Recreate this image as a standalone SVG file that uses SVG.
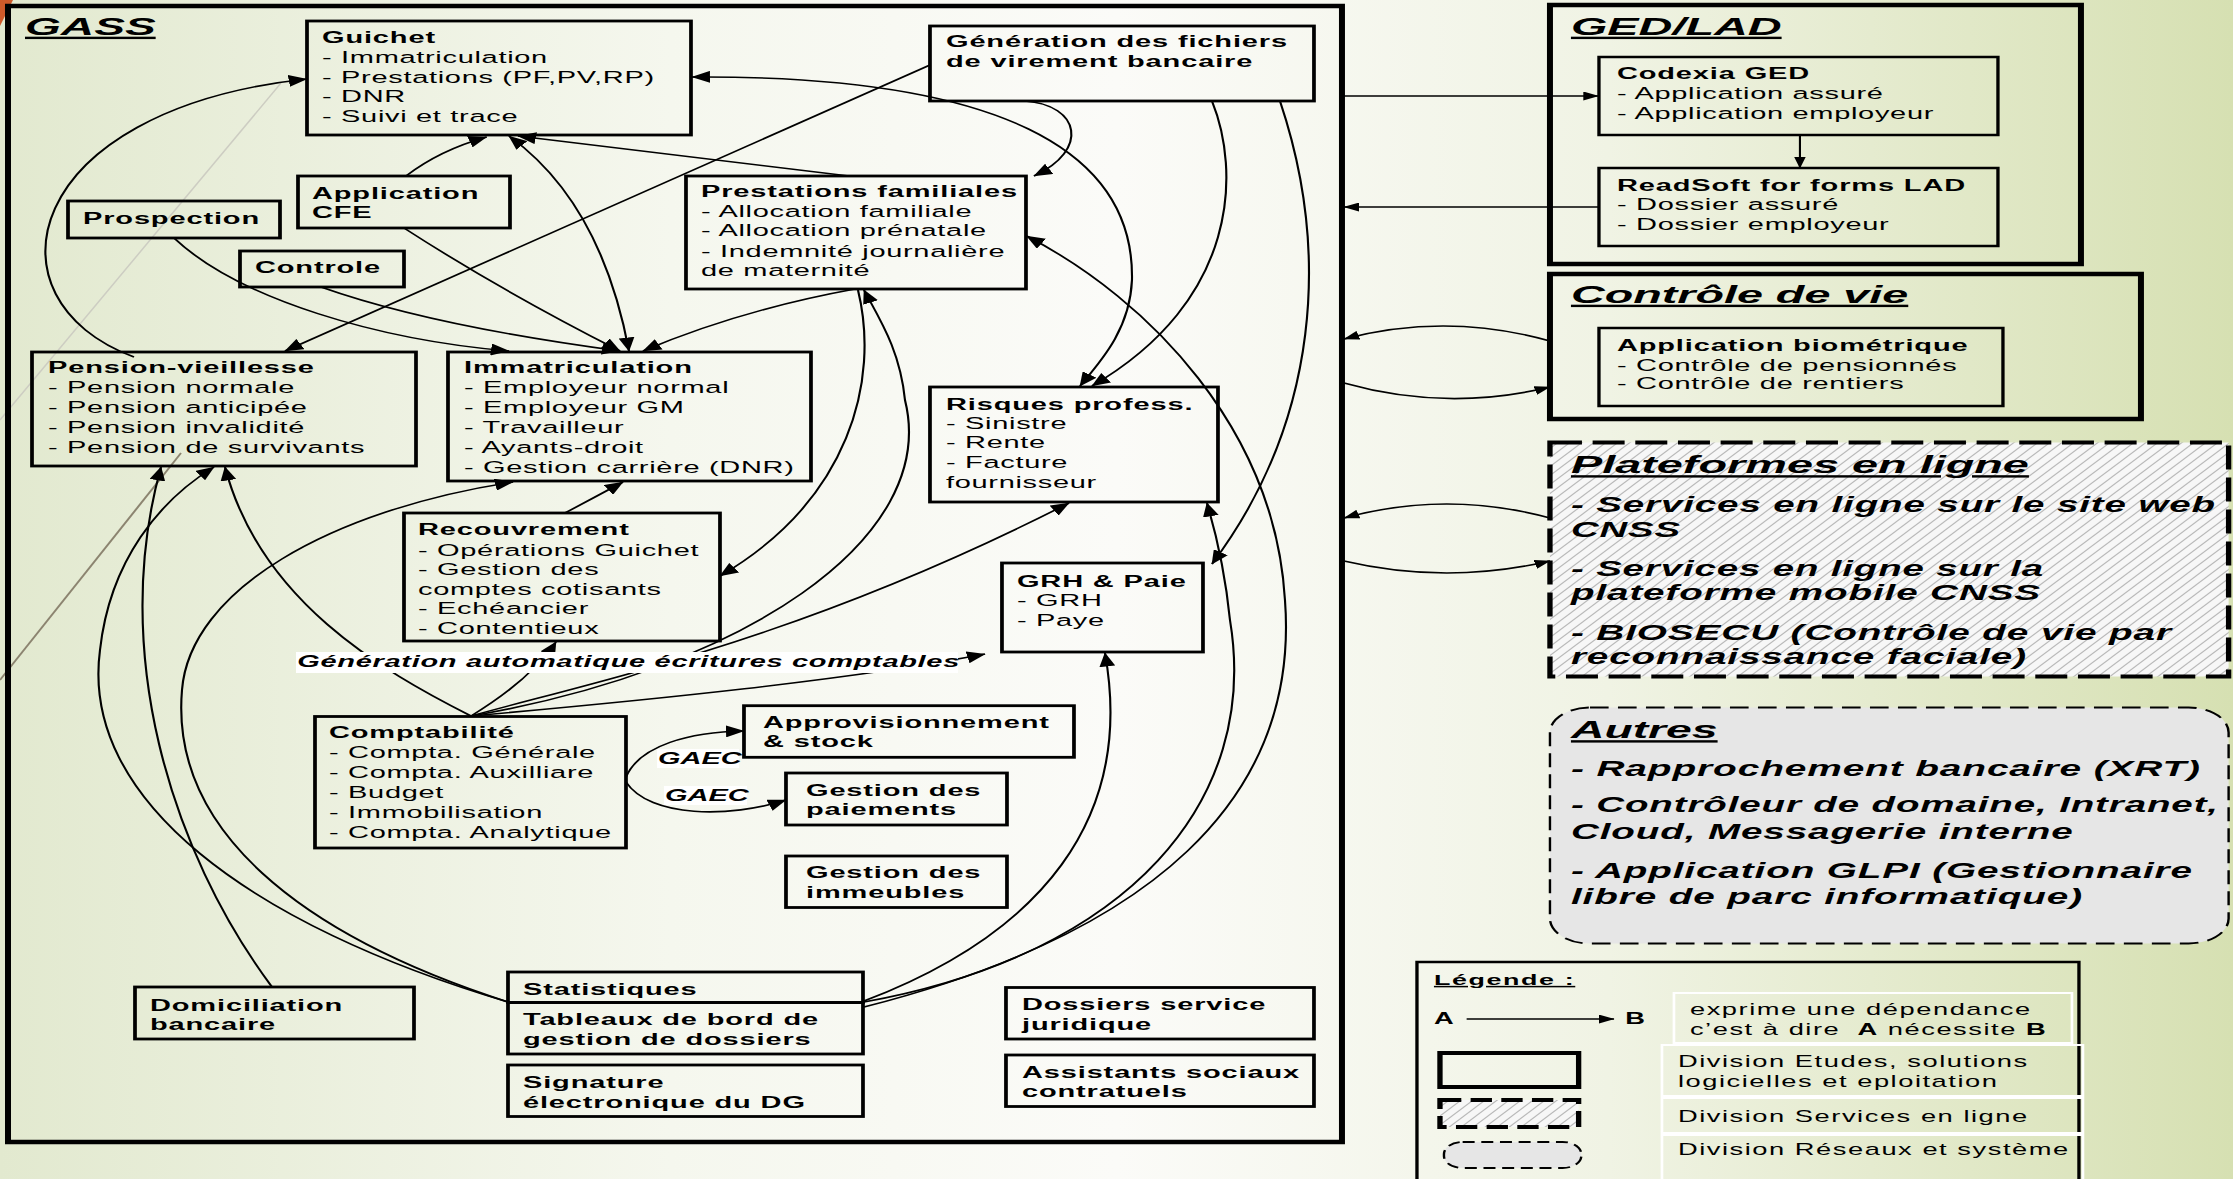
<svg xmlns="http://www.w3.org/2000/svg" width="2233" height="1179" viewBox="0 0 2233 1179">
<defs>
<linearGradient id="bg" x1="0" y1="0" x2="1" y2="0">
<stop offset="0" stop-color="#e2e9cf"/>
<stop offset="0.3" stop-color="#f5f7ee"/>
<stop offset="0.5" stop-color="#fbfbf8"/>
<stop offset="0.72" stop-color="#f0f3e4"/>
<stop offset="1" stop-color="#d6e0b2"/>
</linearGradient>
<pattern id="hatch" patternUnits="userSpaceOnUse" width="9" height="9">
<rect width="9" height="9" fill="#f7f7f7"/>
<path d="M-1,10 L10,-1 M-1,1 L1,-1 M8,10 L10,8" stroke="#b8b8b8" stroke-width="1"/>
</pattern>
<marker id="ah" viewBox="0 0 14 12" refX="13.5" refY="6" markerWidth="14" markerHeight="12" markerUnits="userSpaceOnUse" orient="auto-start-reverse">
<path d="M0,0 L14,6 L0,12 z" fill="#000"/>
</marker>
<marker id="as" viewBox="0 0 12 9" refX="11.5" refY="4.5" markerWidth="12" markerHeight="9" markerUnits="userSpaceOnUse" orient="auto-start-reverse">
<path d="M0,0 L12,4.5 L0,9 z" fill="#000"/>
</marker>
<style>
.box{fill:none;stroke:#000;stroke-width:2.8}
.frame{fill:none;stroke:#000;stroke-width:4.5}
.t{font-family:"Liberation Sans",Arial,sans-serif;font-size:17px;letter-spacing:0.4px;fill:#000}
.b{font-weight:bold;letter-spacing:0.5px}
.big{font-family:"Liberation Sans",Arial,sans-serif;font-size:22px;font-weight:bold;font-style:italic;letter-spacing:0.5px;fill:#000}
.ttl{font-family:"Liberation Sans",Arial,sans-serif;font-size:24px;font-weight:bold;font-style:italic;text-decoration:underline;fill:#000}
.lg{font-family:"Liberation Sans",Arial,sans-serif;font-size:16px;letter-spacing:0.9px;fill:#000}
.lbl{font-family:"Liberation Sans",Arial,sans-serif;font-size:17px;font-weight:bold;font-style:italic;letter-spacing:0.4px;fill:#000}
.cn path{fill:none;stroke:#000;stroke-width:1.6}
.wbg{fill:#fff;stroke:none}
</style>
</defs>

<rect x="0" y="0" width="2233" height="1179" fill="url(#bg)"/>
<g id="decor">
<polygon points="0,0 13,0 0,26" fill="#cf5a2a"/>
<line x1="281" y1="83" x2="0" y2="420" stroke="#cdcdc2" stroke-width="1.5"/>
<line x1="181" y1="453" x2="0" y2="680" stroke="#8c8470" stroke-width="2"/>
</g>

<g transform="scale(1.3333,1)">

<g id="gass">
<rect class="frame" x="6" y="6" width="1000.5" height="1136"/>
<text class="ttl" x="18.75" y="35" textLength="98" lengthAdjust="spacingAndGlyphs">GASS</text>
</g>

<g id="guichet">
<rect class="box" x="230.25" y="21" width="288" height="114"/>
<text class="t" transform="scale(1.28,1)"><tspan class="b" x="188.67" y="43">Guichet</tspan><tspan x="188.67" y="63">- Immatriculation</tspan><tspan x="188.67" y="83">- Prestations (PF,PV,RP)</tspan><tspan x="188.67" y="102">- DNR</tspan><tspan x="188.67" y="122">- Suivi et trace</tspan></text>
</g>

<g id="generation-fichiers">
<rect class="box" x="697.5" y="26" width="288" height="75"/>
<text class="t b" transform="scale(1.28,1)"><tspan x="554.3" y="47">Génération des fichiers</tspan><tspan x="554.3" y="67">de virement bancaire</tspan></text>
</g>

<g id="application-cfe">
<rect class="box" x="223.5" y="176" width="159" height="52"/>
<text class="t b" transform="scale(1.28,1)"><tspan x="182.81" y="199">Application</tspan><tspan x="182.81" y="218">CFE</tspan></text>
</g>

<g id="prospection">
<rect class="box" x="51" y="201" width="159" height="37"/>
<text class="t b" transform="scale(1.28,1)" x="48.63" y="224">Prospection</text>
</g>

<g id="controle">
<rect class="box" x="180" y="251" width="123" height="36"/>
<text class="t b" transform="scale(1.28,1)" x="149.41" y="273">Controle</text>
</g>

<g id="prestations-familiales">
<rect class="box" x="514.5" y="176" width="255" height="113"/>
<text class="t" transform="scale(1.28,1)"><tspan class="b" x="410.74" y="197">Prestations familiales</tspan><tspan x="410.74" y="217">- Allocation familiale</tspan><tspan x="410.74" y="236">- Allocation prénatale</tspan><tspan x="410.74" y="257">- Indemnité journalière</tspan><tspan x="410.74" y="276">de maternité</tspan></text>
</g>

<g id="pension-vieillesse">
<rect class="box" x="24" y="352" width="288" height="114"/>
<text class="t" transform="scale(1.28,1)"><tspan class="b" x="28.13" y="373">Pension-vieillesse</tspan><tspan x="28.13" y="393">- Pension normale</tspan><tspan x="28.13" y="413">- Pension anticipée</tspan><tspan x="28.13" y="433">- Pension invalidité</tspan><tspan x="28.13" y="453">- Pension de survivants</tspan></text>
</g>

<g id="immatriculation">
<rect class="box" x="336" y="352" width="272.25" height="129"/>
<text class="t" transform="scale(1.28,1)"><tspan class="b" x="271.88" y="373">Immatriculation</tspan><tspan x="271.88" y="393">- Employeur normal</tspan><tspan x="271.88" y="413">- Employeur GM</tspan><tspan x="271.88" y="433">- Travailleur</tspan><tspan x="271.88" y="453">- Ayants-droit</tspan><tspan x="271.88" y="473">- Gestion carrière (DNR)</tspan></text>
</g>

<g id="risques-profess">
<rect class="box" x="697.5" y="387" width="216" height="115"/>
<text class="t" transform="scale(1.28,1)"><tspan class="b" x="554.3" y="410">Risques profess.</tspan><tspan x="554.3" y="429">- Sinistre</tspan><tspan x="554.3" y="448">- Rente</tspan><tspan x="554.3" y="468">- Facture</tspan><tspan x="554.3" y="488">fournisseur</tspan></text>
</g>

<g id="recouvrement">
<rect class="box" x="303" y="513" width="237" height="128"/>
<text class="t" transform="scale(1.28,1)"><tspan class="b" x="244.92" y="535">Recouvrement</tspan><tspan x="244.92" y="556">- Opérations Guichet</tspan><tspan x="244.92" y="575">- Gestion des</tspan><tspan x="244.92" y="595">comptes cotisants</tspan><tspan x="244.92" y="614">- Echéancier</tspan><tspan x="244.92" y="634">- Contentieux</tspan></text>
</g>

<g id="grh-paie">
<rect class="box" x="751.5" y="563" width="150.75" height="89"/>
<text class="t" transform="scale(1.28,1)"><tspan class="b" x="595.9" y="587">GRH &amp; Paie</tspan><tspan x="595.9" y="606">- GRH</tspan><tspan x="595.9" y="626">- Paye</tspan></text>
</g>

<g id="comptabilite">
<rect class="box" x="236.25" y="716.5" width="233.25" height="131.5"/>
<text class="t" transform="scale(1.28,1)"><tspan class="b" x="192.77" y="738">Comptabilité</tspan><tspan x="192.77" y="758">- Compta. Générale</tspan><tspan x="192.77" y="778">- Compta. Auxilliare</tspan><tspan x="192.77" y="798">- Budget</tspan><tspan x="192.77" y="818">- Immobilisation</tspan><tspan x="192.77" y="838">- Compta. Analytique</tspan></text>
</g>

<g id="approvisionnement">
<rect class="box" x="558" y="705.7" width="247.5" height="51.6"/>
<text class="t b" transform="scale(1.28,1)"><tspan x="447.07" y="728">Approvisionnement</tspan><tspan x="447.07" y="747">&amp; stock</tspan></text>
</g>

<g id="gestion-paiements">
<rect class="box" x="589.5" y="773" width="165.75" height="52"/>
<text class="t b" transform="scale(1.28,1)"><tspan x="472.27" y="796">Gestion des</tspan><tspan x="472.27" y="815">paiements</tspan></text>
</g>

<g id="gestion-immeubles">
<rect class="box" x="589.5" y="856" width="165.75" height="51.5"/>
<text class="t b" transform="scale(1.28,1)"><tspan x="472.27" y="878.5">Gestion des</tspan><tspan x="472.27" y="898">immeubles</tspan></text>
</g>

<g id="domiciliation">
<rect class="box" x="101.25" y="987" width="209.25" height="52"/>
<text class="t b" transform="scale(1.28,1)"><tspan x="87.89" y="1011">Domiciliation</tspan><tspan x="87.89" y="1030">bancaire</tspan></text>
</g>

<g id="statistiques">
<rect class="box" x="381" y="972" width="266.25" height="30.5"/>
<rect class="box" x="381" y="1002.5" width="266.25" height="51.5"/>
<text class="t b" transform="scale(1.28,1)"><tspan x="306.45" y="995">Statistiques</tspan><tspan x="306.45" y="1025.5">Tableaux de bord de</tspan><tspan x="306.45" y="1045.5">gestion de dossiers</tspan></text>
</g>

<g id="signature">
<rect class="box" x="381" y="1065" width="266.25" height="51.5"/>
<text class="t b" transform="scale(1.28,1)"><tspan x="306.45" y="1088">Signature</tspan><tspan x="306.45" y="1108">électronique du DG</tspan></text>
</g>

<g id="dossiers-juridique">
<rect class="box" x="754.5" y="987.5" width="231" height="51.5"/>
<text class="t b" transform="scale(1.28,1)"><tspan x="598.83" y="1010">Dossiers service</tspan><tspan x="598.83" y="1030">juridique</tspan></text>
</g>

<g id="assistants-sociaux">
<rect class="box" x="754.5" y="1055" width="231" height="51.5"/>
<text class="t b" transform="scale(1.28,1)"><tspan x="598.83" y="1078">Assistants sociaux</tspan><tspan x="598.83" y="1097">contratuels</tspan></text>
</g>

<g id="ged-lad">
<rect class="frame" x="1162.5" y="5" width="398.25" height="259"/>
<text class="ttl" x="1178.25" y="35" textLength="158" lengthAdjust="spacingAndGlyphs">GED/LAD</text>
</g>
<g id="codexia">
<rect class="box" x="1199.25" y="57" width="299.25" height="78" style="stroke-width:2.5"/>
<text class="t" transform="scale(1.28,1)"><tspan class="b" x="947.46" y="79">Codexia GED</tspan><tspan x="947.46" y="99">- Application assuré</tspan><tspan x="947.46" y="119">- Application employeur</tspan></text>
</g>
<g id="readsoft">
<rect class="box" x="1199.25" y="168" width="299.25" height="78" style="stroke-width:2.5"/>
<text class="t" transform="scale(1.28,1)"><tspan class="b" x="947.46" y="191">ReadSoft for forms LAD</tspan><tspan x="947.46" y="210">- Dossier assuré</tspan><tspan x="947.46" y="230">- Dossier employeur</tspan></text>
</g>

<g id="controle-de-vie">
<rect class="frame" x="1162.5" y="274" width="443.25" height="145"/>
<text class="ttl" x="1178.25" y="303" textLength="253" lengthAdjust="spacingAndGlyphs">Contrôle de vie</text>
</g>
<g id="application-biometrique">
<rect class="box" x="1199.25" y="328" width="303" height="78" style="stroke-width:2.5"/>
<text class="t" transform="scale(1.28,1)"><tspan class="b" x="947.46" y="351">Application biométrique</tspan><tspan x="947.46" y="371">- Contrôle de pensionnés</tspan><tspan x="947.46" y="389">- Contrôle de rentiers</tspan></text>
</g>

<g id="plateformes">
<rect x="1162.5" y="442.5" width="509" height="234" fill="url(#hatch)" stroke="#000" stroke-width="4" stroke-dasharray="24 8"/>
<text class="ttl" x="1178.25" y="473.5" textLength="343.5" lengthAdjust="spacingAndGlyphs">Plateformes en ligne</text>
<text class="big" x="1178.25" y="512" textLength="483.75" lengthAdjust="spacingAndGlyphs">- Services en ligne sur le site web</text>
<text class="big" x="1178.25" y="537" textLength="82.5" lengthAdjust="spacingAndGlyphs">CNSS</text>
<text class="big" x="1178.25" y="576.5" textLength="354.75" lengthAdjust="spacingAndGlyphs">- Services en ligne sur la</text>
<text class="big" x="1178.25" y="600.5" textLength="352.5" lengthAdjust="spacingAndGlyphs">plateforme mobile CNSS</text>
<text class="big" x="1178.25" y="640" textLength="450.75" lengthAdjust="spacingAndGlyphs">- BIOSECU (Contrôle de vie par</text>
<text class="big" x="1178.25" y="664.5" textLength="342" lengthAdjust="spacingAndGlyphs">reconnaissance faciale)</text>
</g>

<g id="autres">
<rect x="1162.5" y="707.5" width="509" height="236" rx="30" ry="25" fill="#e6e6e6" stroke="#000" stroke-width="1.8" stroke-dasharray="14 7"/>
<text class="ttl" x="1178.25" y="738.5" textLength="110" lengthAdjust="spacingAndGlyphs">Autres</text>
<text class="big" x="1178.25" y="776" textLength="472.5" lengthAdjust="spacingAndGlyphs">- Rapprochement bancaire (XRT)</text>
<text class="big" x="1178.25" y="812.5" textLength="486" lengthAdjust="spacingAndGlyphs">- Contrôleur de domaine, Intranet,</text>
<text class="big" x="1178.25" y="839" textLength="377" lengthAdjust="spacingAndGlyphs">Cloud, Messagerie interne</text>
<text class="big" x="1178.25" y="878" textLength="466.5" lengthAdjust="spacingAndGlyphs">- Application GLPI (Gestionnaire</text>
<text class="big" x="1178.25" y="904" textLength="384" lengthAdjust="spacingAndGlyphs">libre de parc informatique)</text>
</g>

<g id="legende">
<rect x="1062.75" y="962" width="496.5" height="230" fill="none" stroke="#000" stroke-width="2.5"/>
<text class="lg" x="1075.5" y="985" style="font-size:15px;font-weight:bold;text-decoration:underline" textLength="106" lengthAdjust="spacingAndGlyphs">Légende :</text>
<text class="lg" x="840.23" y="1024" transform="scale(1.28,1)" style="font-weight:bold">A</text>
<line x1="1100" y1="1019" x2="1210.5" y2="1019" stroke="#000" stroke-width="1.4" marker-end="url(#as)"/>
<text class="lg" x="952.34" y="1024" transform="scale(1.28,1)" style="font-weight:bold">B</text>
<rect x="1255.5" y="993" width="298.5" height="50" fill="none" stroke="#fff" stroke-width="2"/>
<rect x="1246.5" y="1045" width="315.75" height="51" fill="none" stroke="#fff" stroke-width="2"/>
<rect x="1246.5" y="1098" width="315.75" height="35" fill="none" stroke="#fff" stroke-width="2"/>
<rect x="1246.5" y="1135" width="315.75" height="50" fill="none" stroke="#fff" stroke-width="2"/>
<text class="lg" transform="scale(1.28,1)"><tspan x="990.23" y="1015">exprime une dépendance</tspan><tspan x="990.23" y="1035">c’est à dire </tspan><tspan dx="4.7" style="font-weight:bold">A</tspan><tspan> nécessite </tspan><tspan style="font-weight:bold">B</tspan></text>
<text class="lg" transform="scale(1.28,1)"><tspan x="983.2" y="1067">Division Etudes, solutions</tspan><tspan x="983.2" y="1087">logicielles et eploitation</tspan><tspan x="983.2" y="1122">Division Services en ligne</tspan><tspan x="983.2" y="1155">Division Réseaux et système</tspan></text>
<rect x="1080" y="1053" width="104" height="34" fill="none" stroke="#000" stroke-width="4"/>
<rect x="1080" y="1100" width="104" height="27" fill="url(#hatch)" stroke="#000" stroke-width="4" stroke-dasharray="16 7"/>
<rect x="1083" y="1142" width="103" height="26" rx="14" ry="12" fill="#e6e6e6" stroke="#000" stroke-width="1.8" stroke-dasharray="9 5"/>
</g>

<g id="connectors" class="cn">
<path d="M100.5,357 C -15,300 15,110 230,79" marker-end="url(#ah)"/>
<path d="M519,77 C 750,75 851,150 849,280 C 847.5,330 825,362 810,386" marker-start="url(#ah)" marker-end="url(#ah)"/>
<path d="M909,101 C 930,170 930,300 819,386" marker-end="url(#ah)"/>
<path d="M960,101 C 997.5,250 990,420 909,564" marker-end="url(#ah)"/>
<path d="M768.75,101 C 810,105 817.5,150 775.5,176" marker-end="url(#ah)"/>
<path d="M697.5,65 L213.75,351" marker-end="url(#ah)"/>
<path d="M304.5,176 Q 330,150 365,137" marker-end="url(#ah)"/>
<path d="M471.75,351 C 457.5,250 427.5,180 381.75,136" marker-start="url(#ah)" marker-end="url(#ah)"/>
<path d="M636.75,176 L388.5,136" marker-end="url(#ah)"/>
<path d="M130.5,238 C 180,300 285,340 381.75,351" marker-end="url(#ah)"/>
<path d="M240.75,287 C 300,315 375,335 465,351" marker-end="url(#ah)"/>
<path d="M303,228 Q 375,290 465,351" marker-end="url(#ah)"/>
<path d="M641.25,289 Q 555,310 482.25,351" marker-end="url(#ah)"/>
<path d="M423.75,513 Q 445,498 467.25,482" marker-end="url(#ah)"/>
<path d="M381,1002 C 225,935 127.5,830 136.5,690 C 142.5,590 247.5,510 384.75,482" marker-end="url(#ah)"/>
<path d="M204,987 C 127.5,850 82.5,650 120.75,467" marker-end="url(#ah)"/>
<path d="M381,1002 C 187.5,925 60,800 75,650 C 82.5,560 120,500 160.5,467" marker-end="url(#ah)"/>
<path d="M353.25,716 C 285,670 195,600 168.75,467" marker-end="url(#ah)"/>
<path d="M353.25,716 Q 397.5,680 417,642" marker-end="url(#ah)"/>
<path d="M353.25,716 C 555,670 705,540 678.75,400 C 675,350 660,320 648,290" marker-end="url(#ah)"/>
<path d="M643.5,290 C 660,380 637.5,500 540,576" marker-end="url(#ah)"/>
<path d="M353.25,716 C 450,680 600,640 801.75,503" marker-end="url(#ah)"/>
<path d="M353.25,716 C 487.5,700 637.5,680 738.75,654" marker-end="url(#ah)"/>
<path d="M469.5,777 C 480,745 517.5,732 558,731" marker-end="url(#ah)"/>
<path d="M469.5,782 C 487.5,818 547.5,818 589.5,800" marker-end="url(#ah)"/>
<path d="M648,1001 C 780,934 851.25,820 828.75,653" marker-end="url(#ah)"/>
<path d="M648,1002 C 847.5,954 945,800 922.5,620 C 918.75,570 911.25,530 905.25,503" marker-end="url(#ah)"/>
<path d="M648,1007 C 862.5,934 975,800 963.75,600 C 956.25,430 862.5,300 770,236" marker-end="url(#ah)"/>
<path d="M1008,96 L1199,96" marker-end="url(#as)"/>
<path d="M1199,207 L1008,207" marker-end="url(#as)"/>
<path d="M1350,135 L1350,168" marker-end="url(#as)"/>
<path d="M1162.5,341 Q 1085,312 1008,339" marker-end="url(#as)"/>
<path d="M1008,383 Q 1085,412 1162.5,387" marker-end="url(#as)"/>
<path d="M1162.5,518 Q 1085,490 1008,518" marker-end="url(#as)"/>
<path d="M1008,561 Q 1085,585 1162.5,561" marker-end="url(#as)"/>
<rect class="wbg" x="222" y="652" width="496.5" height="21"/>
<text class="lbl" x="174.22" y="667" transform="scale(1.28,1)">Génération automatique écritures comptables</text>
<rect class="wbg" x="492.75" y="749" width="61.5" height="19"/>
<text class="lbl" x="385.55" y="764" transform="scale(1.28,1)" style="letter-spacing:0">GAEC</text>
<rect class="wbg" x="498" y="786" width="62.25" height="19"/>
<text class="lbl" x="389.65" y="801" transform="scale(1.28,1)" style="letter-spacing:0">GAEC</text>
</g>

</g>
</svg>
